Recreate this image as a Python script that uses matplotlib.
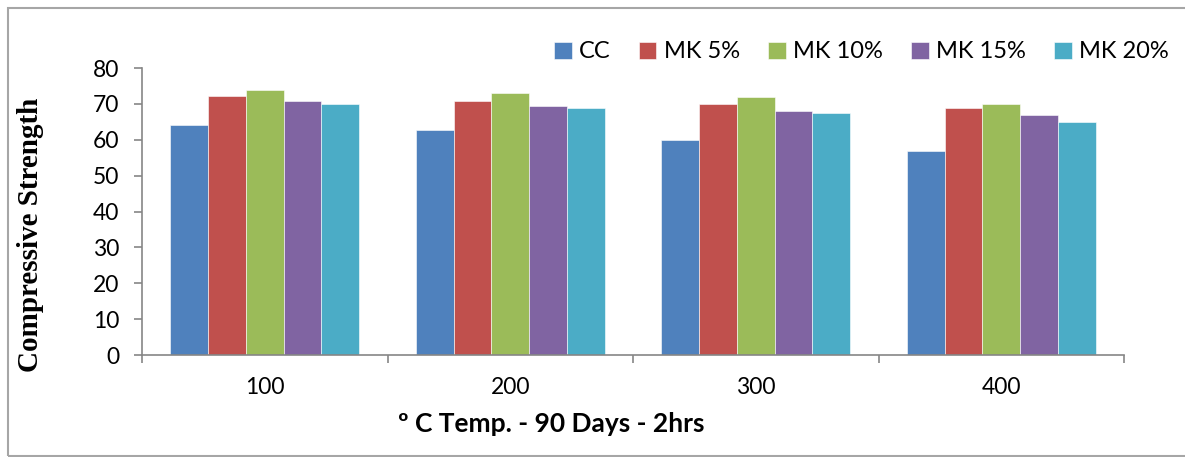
#!/usr/bin/env python3
"""Compressive strength after 90 days, 2 hrs at temperature - grouped bars."""

import matplotlib

matplotlib.use("Agg")

import matplotlib.pyplot as plt
import numpy as np
from matplotlib.patches import Rectangle

temps = ["100", "200", "300", "400"]
series_names = ["CC", "MK 5%", "MK 10%", "MK 15%", "MK 20%"]
cc = [64.0, 62.7, 60.0, 57.0]
mk5 = [72.2, 70.9, 70.0, 68.9]
mk10 = [73.9, 72.9, 71.9, 70.0]
mk15 = [70.9, 69.4, 68.0, 66.9]
mk20 = [70.0, 68.9, 67.4, 65.0]
colors = ["#4F81BD", "#C0504D", "#9BBB59", "#8064A2", "#4BACC6"]

SANS = ["Lato", "DejaVu Sans"]


def main() -> None:
    fig = plt.figure(figsize=(11.85, 4.57), dpi=100)
    ax = fig.add_axes([142 / 1185, 1 - 355 / 457, (1124 - 142) / 1185, (355 - 68) / 457])

    x = np.arange(len(temps))
    width = 0.154
    values = [cc, mk5, mk10, mk15, mk20]
    for i, (name, vals, color) in enumerate(zip(series_names, values, colors)):
        offset = (i - 2) * width
        ax.bar(x + offset, vals, width, color=color, label=name,
               edgecolor="white", linewidth=0.4)

    ax.set_xlim(-0.5, len(temps) - 0.5)
    ax.set_ylim(0, 80)
    ax.set_yticks(range(0, 81, 10))
    ax.set_xticks(np.arange(-0.5, len(temps), 1.0))
    ax.set_xticklabels([])
    ax.set_xticks(x, minor=True)
    ax.set_xticklabels(temps, minor=True)

    for side in ("top", "right"):
        ax.spines[side].set_visible(False)
    for side in ("left", "bottom"):
        ax.spines[side].set_color("#868686")
        ax.spines[side].set_linewidth(1.2)

    ax.tick_params(axis="y", direction="out", length=5.5, width=1.2, color="#868686",
                   pad=11, labelsize=16.5)
    ax.tick_params(axis="x", which="major", direction="out", length=5.5, width=1.2,
                   color="#868686")
    ax.tick_params(axis="x", which="minor", length=0, pad=16, labelsize=16.5)
    for lbl in ax.get_yticklabels() + ax.get_xticklabels(minor=True):
        lbl.set_family(SANS)

    ax.set_ylabel("Compressive Strength", family="Liberation Serif", fontweight="bold",
                  fontsize=21)
    ax.yaxis.set_label_coords(-0.1, 0.42)
    ax.set_xlabel("º C Temp. - 90 Days - 2hrs", family=SANS, fontweight="bold",
                  fontsize=19)
    ax.xaxis.set_label_coords((551 - 142) / 982, -0.2)

    fig.legend(loc="center right", bbox_to_anchor=(1178 / 1185, 1 - 52 / 457), ncol=5,
               frameon=False, prop={"family": SANS, "size": 17}, handlelength=0.75,
               handleheight=0.75, handletextpad=0.3, columnspacing=1.2, borderaxespad=0)

    fig.add_artist(Rectangle((8 / 1185, 1 / 457), 1.2, 448 / 457, transform=fig.transFigure,
                             fill=False, edgecolor="#A6A6A6", linewidth=1.5))

    fig.savefig("out.png", dpi=100)
    plt.close(fig)


if __name__ == "__main__":
    main()
